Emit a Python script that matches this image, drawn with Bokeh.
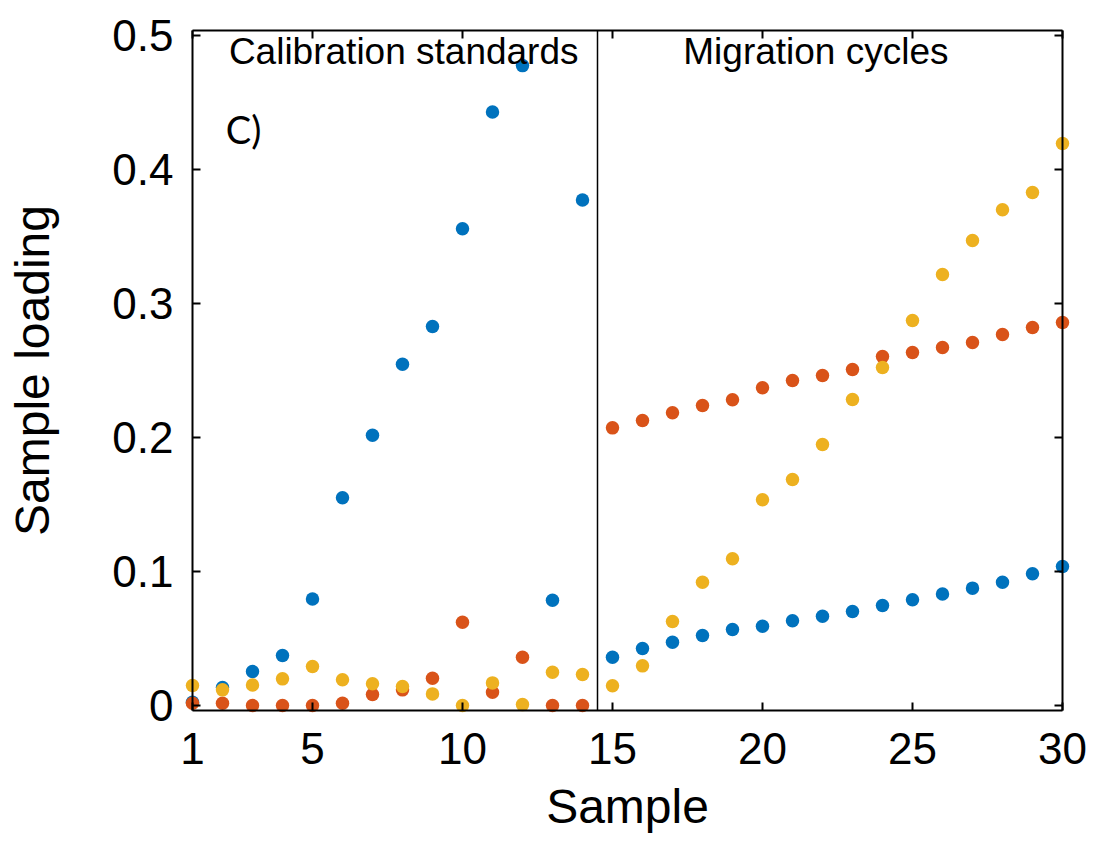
from bokeh.plotting import figure
from bokeh.models import Range1d, FixedTicker, LinearAxis, Span, Label, CustomLabelingPolicy
from bokeh.embed import file_html
from bokeh.resources import INLINE

# Sample index and the three component loadings
sample = list(range(1, 31))
loading_blue = [0.0025, 0.0134, 0.0254, 0.0373, 0.0795, 0.1551, 0.2017, 0.2546, 0.2829, 0.3557,
                0.4429, 0.4775, 0.0786, 0.3772, 0.0361, 0.0425, 0.0473, 0.0522, 0.0567, 0.0592,
                0.0632, 0.0667, 0.0701, 0.0746, 0.0789, 0.0833, 0.0876, 0.0920, 0.0983, 0.1037]
loading_orange = [0.0017, 0.0017, 0.0, 0.0, 0.0, 0.0017, 0.0082, 0.0117, 0.0204, 0.0622,
                  0.0099, 0.0360, 0.0, 0.0, 0.2072, 0.2127, 0.2184, 0.2239, 0.2281, 0.2371,
                  0.2425, 0.2463, 0.2507, 0.2604, 0.2634, 0.2672, 0.2709, 0.2769, 0.2821, 0.2858]
loading_yellow = [0.0149, 0.0117, 0.0154, 0.0199, 0.0291, 0.0192, 0.0162, 0.0142, 0.0087, 0.0,
                  0.0169, 0.0007, 0.0249, 0.0231, 0.0147, 0.0296, 0.0627, 0.0920, 0.1095, 0.1535,
                  0.1687, 0.1948, 0.2284, 0.2522, 0.2873, 0.3216, 0.3470, 0.3700, 0.3828, 0.4194]

x_ticks = [1, 5, 10, 15, 20, 25, 30]
y_ticks = [0, 0.1, 0.2, 0.3, 0.4, 0.5]
y_tick_labels = ["0", "0.1", "0.2", "0.3", "0.4", "0.5"]

# Boundary between the calibration block and the migration block
section_split = 14.5
section_titles = ["Calibration standards", "Migration cycles"]
section_title_x = [8.04, 21.78]
panel_tag = "C)"

FONT = "Liberation Sans"
colors = ["#0072BD", "#D95319", "#EDB120"]

p = figure(frame_width=870, frame_height=680, output_backend="svg", toolbar_location=None,
           x_range=Range1d(1, 30), y_range=Range1d(-0.0037, 0.5037),
           min_border_left=192, min_border_right=33, min_border_top=30, min_border_bottom=131)
p.xgrid.visible = False
p.ygrid.visible = False
p.outline_line_color = None
p.background_fill_color = "white"
p.border_fill_color = "white"

# mirrored axes on top/right carry tick marks only
no_labels = CustomLabelingPolicy(code="return new Set()")


def style_axis(ax, ticks, labels=True):
    ax.ticker = FixedTicker(ticks=ticks)
    ax.axis_line_color = "black"
    ax.axis_line_width = 2
    ax.major_tick_line_color = "black"
    ax.major_tick_line_width = 2
    ax.major_tick_in = 8
    ax.major_tick_out = 0
    ax.minor_tick_line_color = None
    ax.level = "overlay"
    if labels:
        ax.major_label_text_font = FONT
        ax.major_label_text_font_size = "44px"
        ax.major_label_text_color = "black"
        ax.axis_label_text_font = FONT
        ax.axis_label_text_font_size = "48px"
        ax.axis_label_text_font_style = "normal"
        ax.axis_label_text_color = "black"
    else:
        ax.major_label_policy = no_labels
        ax.major_label_text_font_size = "2px"
        ax.major_label_standoff = 0


style_axis(p.xaxis[0], x_ticks)
style_axis(p.yaxis[0], y_ticks)
p.xaxis.axis_label = "Sample"
p.yaxis.axis_label = "Sample loading"
p.xaxis.major_label_standoff = 22
p.xaxis.axis_label_standoff = 13
p.yaxis.major_label_standoff = 19
p.yaxis.axis_label_standoff = 50
p.yaxis.major_label_overrides = {t: s for t, s in zip(y_ticks, y_tick_labels)}

top_axis = LinearAxis()
style_axis(top_axis, x_ticks, labels=False)
p.add_layout(top_axis, "above")
right_axis = LinearAxis()
style_axis(right_axis, y_ticks, labels=False)
p.add_layout(right_axis, "right")

p.add_layout(Span(location=section_split, dimension="height", line_color="black",
                  line_width=1.5, level="overlay"))

for vals, col in zip([loading_blue, loading_orange, loading_yellow], colors):
    r = p.scatter(sample, vals, size=13.5, fill_color=col, line_color=None, marker="circle")
    r.level = "overlay"

for title, tx in zip(section_titles, section_title_x):
    p.add_layout(Label(x=tx, y=0.488, text=title, text_align="center", text_baseline="alphabetic",
                       text_font=FONT, text_font_size="37px", text_color="black", level="overlay"))

p.add_layout(Label(x=2.11, y=0.430, text=panel_tag, text_align="left", text_baseline="alphabetic",
                   text_font="Lato", text_font_size="38px", text_color="black", level="overlay"))

open("out.html", "w").write(file_html(p, INLINE))
